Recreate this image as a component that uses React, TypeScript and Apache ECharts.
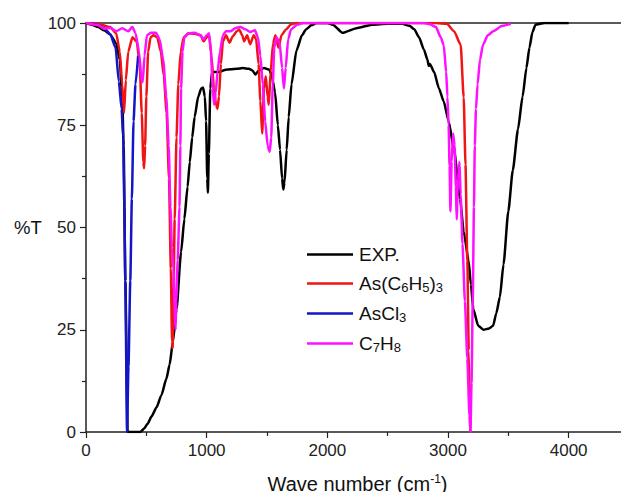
import React, { useEffect, useRef } from "react";
import * as echarts from "echarts";

// Wave number (cm-1), %T pairs
const expSpectrum: [number, number][] = [
  [0, 100], [50, 99.6], [100, 99], [150, 98.2], [200, 97.2], [250, 95], [280, 91], [300, 82], [312, 70], [326, 37], [345, 0],
  [450, 0], [480, 0.8], [510, 2], [543, 3.8], [584, 6], [625, 9], [666, 13], [693, 16.5], [720, 22], [750, 30],
  [788, 44], [815, 52], [842, 60], [860, 66], [880, 72], [900, 77], [930, 82], [955, 84], [970, 84.2], [985, 82],
  [995, 76], [1005, 62], [1010, 58.5], [1018, 68], [1030, 84], [1045, 88], [1100, 88], [1160, 88.6], [1250, 88.8],
  [1300, 89], [1350, 88.8], [1380, 88.4], [1403, 87.4], [1430, 88.3], [1475, 89], [1520, 88.6], [1540, 87], [1567, 83],
  [1590, 75], [1608, 69], [1625, 62], [1635, 59.3], [1645, 61], [1663, 69], [1680, 77], [1703, 85], [1744, 93.3],
  [1790, 97], [1825, 98.5], [1870, 99.5], [1910, 100], [2000, 100], [2045, 99.6], [2125, 97.6], [2250, 98.8],
  [2370, 99.6], [2500, 99.8], [2620, 99.8], [2680, 99.3], [2720, 98.5], [2760, 96.5], [2800, 93.5], [2830, 91],
  [2840, 89.5], [2850, 90], [2885, 88], [2925, 84], [2965, 80.8], [3005, 76], [3050, 69], [3100, 57], [3130, 49],
  [3170, 42], [3190, 36], [3210, 30], [3250, 26], [3293, 25], [3340, 25.3], [3374, 26], [3400, 29], [3430, 33],
  [3460, 41], [3500, 54], [3537, 64], [3580, 74], [3618, 82], [3650, 89], [3675, 94], [3700, 97.8], [3725, 99.6],
  [3800, 100], [4000, 100],
];

const asPh3Spectrum: [number, number][] = [
  [0, 100], [100, 99.8], [200, 99], [250, 97.5], [280, 93], [300, 85], [315, 78], [330, 86], [350, 93], [385, 96.5],
  [420, 95.5], [445, 90], [462, 78], [475, 66], [482, 64.5], [490, 70], [500, 82], [515, 93], [535, 96.5], [560, 97],
  [590, 96.5], [620, 93], [645, 87], [668, 78], [688, 62], [703, 40], [713, 22], [718, 20.5], [724, 30], [735, 52],
  [750, 72], [765, 85], [785, 93], [810, 96.5], [850, 97.5], [900, 97.4], [950, 97], [975, 95.5], [1000, 96.5],
  [1020, 97], [1040, 92], [1060, 84], [1078, 80], [1090, 79], [1102, 82], [1118, 90], [1135, 95.5], [1160, 97],
  [1190, 95.2], [1215, 96.7], [1250, 98], [1270, 98.4], [1295, 97], [1310, 95.5], [1335, 97], [1360, 94.8],
  [1390, 97], [1410, 96], [1430, 90], [1445, 81], [1460, 73], [1475, 84], [1490, 87], [1505, 82], [1515, 80],
  [1530, 88], [1550, 95], [1570, 97], [1595, 94], [1620, 97], [1660, 98.5], [1700, 99.7], [1750, 100], [2900, 100],
  [2990, 99.8], [3050, 98], [3105, 94.7], [3130, 81.8], [3145, 65.4], [3160, 42], [3172, 20], [3185, 0],
];

const asCl3Spectrum: [number, number][] = [
  [50, 99.8], [100, 99.5], [150, 98.7], [200, 97.3], [245, 94], [272, 85.7], [295, 79], [308, 72], [318, 55],
  [326, 37], [340, 0], [352, 16], [367, 37], [380, 57], [394, 76], [410, 85], [432, 92],
];

const tolueneSpectrum: [number, number][] = [
  [0, 100], [100, 99.5], [150, 98.6], [200, 98.8], [250, 98], [300, 98.7], [350, 98], [385, 99], [410, 97.5],
  [440, 93], [460, 86], [470, 85.5], [485, 92], [505, 97], [540, 97.6], [580, 97.6], [610, 96], [640, 91], [665, 82],
  [685, 70], [700, 55], [712, 45], [725, 40], [735, 30], [742, 25], [748, 32], [760, 42], [775, 55], [782, 70],
  [788, 84], [800, 93], [815, 96.5], [850, 97.5], [900, 97.6], [950, 97], [975, 96], [1000, 97], [1020, 97.5],
  [1035, 93], [1050, 84], [1062, 80], [1075, 83], [1090, 88], [1110, 93], [1135, 97], [1160, 98], [1200, 98],
  [1240, 98.8], [1280, 99], [1320, 98.5], [1360, 97.8], [1400, 98.2], [1425, 96.5], [1445, 92], [1465, 85],
  [1485, 76], [1505, 70], [1522, 68.5], [1535, 72], [1548, 85], [1560, 94], [1580, 96.5], [1605, 95], [1625, 89],
  [1640, 84], [1655, 89], [1675, 96], [1700, 98.5], [1750, 99.6], [1800, 100], [2800, 100], [2850, 99.7], [2900, 99],
  [2940, 96.5], [2965, 94.5], [2985, 88], [2995, 82], [3005, 75], [3013, 65], [3020, 54], [3030, 66], [3042, 73],
  [3055, 70], [3065, 60], [3072, 52], [3083, 62], [3095, 66], [3105, 58], [3120, 46], [3140, 32], [3160, 18],
  [3178, 4], [3186, 0], [3195, 12], [3205, 32], [3215, 55], [3222, 70], [3232, 79], [3245, 85], [3265, 91],
  [3290, 94.7], [3330, 97], [3375, 98], [3450, 99.3], [3520, 99.8],
];

const seriesNames = ["EXP.", "As(C6H5)3", "AsCl3", "C7H8"];
const legendLabels: Record<string, string> = {
  "EXP.": "EXP.",
  "As(C6H5)3": "As(C{s|6}H{s|5}){s|3}",
  AsCl3: "AsCl{s|3}",
  C7H8: "C{s|7}H{s|8}",
};
const seriesColors = ["#000000", "#f01414", "#1414c8", "#ff10ff"];
const seriesData = [expSpectrum, asPh3Spectrum, asCl3Spectrum, tolueneSpectrum];

const FONT = "'Liberation Sans', Arial, Helvetica, sans-serif";

export default function App() {
  const ref = useRef<HTMLDivElement>(null);
  useEffect(() => {
    if (!ref.current) return;
    const chart = echarts.init(ref.current, null, { renderer: "svg" });
    const axisColor = "#222";
    chart.setOption({
      animation: false,
      backgroundColor: "#ffffff",
      grid: { left: 86, top: 23, right: -9, bottom: 68, containLabel: false },
      legend: {
        orient: "vertical",
        left: 307,
        top: 245,
        padding: 0,
        icon: "rect",
        itemWidth: 46,
        itemHeight: 2.5,
        itemGap: 9,
        data: seriesNames,
        formatter: (name: string) => legendLabels[name] || name,
        textStyle: {
          fontFamily: FONT,
          fontSize: 19,
          color: "#111",
          lineHeight: 19,
          padding: [0, 0, 0, 1],
          rich: {
            s: { fontFamily: FONT, fontSize: 13, lineHeight: 13, padding: [8, 0, 0, 0], color: "#111" },
          },
        },
      },
      xAxis: [
        {
          type: "value",
          min: 0,
          max: 4500,
          interval: 1000,
          name: "Wave number (cm{sup|-1})",
          nameLocation: "middle",
          nameGap: 41,
          nameTextStyle: {
            fontFamily: FONT,
            fontSize: 20,
            color: "#111",
            rich: { sup: { fontFamily: FONT, fontSize: 12, padding: [0, 0, 10, 0], color: "#111" } },
          },
          axisLine: { show: true, onZero: false, lineStyle: { color: axisColor, width: 1.5 } },
          axisTick: { show: true, length: 6, lineStyle: { color: axisColor, width: 1.2 } },
          minorTick: { show: true, splitNumber: 2, length: 4, lineStyle: { color: axisColor, width: 1.2 } },
          axisLabel: {
            fontFamily: FONT,
            fontSize: 17,
            color: "#222",
            margin: 10,
            showMaxLabel: false,
            formatter: (v: number) => String(v),
          },
          splitLine: { show: false },
        },
        {
          type: "value",
          position: "top",
          min: 0,
          max: 4500,
          interval: 1000,
          axisLine: { show: true, onZero: false, lineStyle: { color: axisColor, width: 1.5 } },
          axisTick: { show: false },
          axisLabel: { show: false },
          splitLine: { show: false },
        },
      ],
      yAxis: {
        type: "value",
        min: 0,
        max: 100,
        interval: 25,
        name: "%T",
        nameLocation: "middle",
        nameRotate: 0,
        nameGap: 44,
        nameTextStyle: { fontFamily: FONT, fontSize: 18.5, color: "#111", padding: [0, 0, 10, 0] },
        axisLine: { show: true, lineStyle: { color: axisColor, width: 1.5 } },
        axisTick: { show: true, length: 6, lineStyle: { color: axisColor, width: 1.2 } },
        minorTick: { show: true, splitNumber: 2, length: 4, lineStyle: { color: axisColor, width: 1.2 } },
        axisLabel: { fontFamily: FONT, fontSize: 17, color: "#222", margin: 10 },
        splitLine: { show: false },
      },
      series: seriesNames.map((name, i) => ({
        name,
        type: "line",
        xAxisIndex: 0,
        data: seriesData[i],
        symbol: "none",
        showSymbol: false,
        smooth: 0.2,
        smoothMonotone: "x",
        clip: true,
        lineStyle: { color: seriesColors[i], width: 2.5 },
        itemStyle: { color: seriesColors[i] },
        z: 2 + i,
      })),
    });
    return () => chart.dispose();
  }, []);
  return <div ref={ref} style={{ width: 629, height: 500, margin: -8 }} />;
}
